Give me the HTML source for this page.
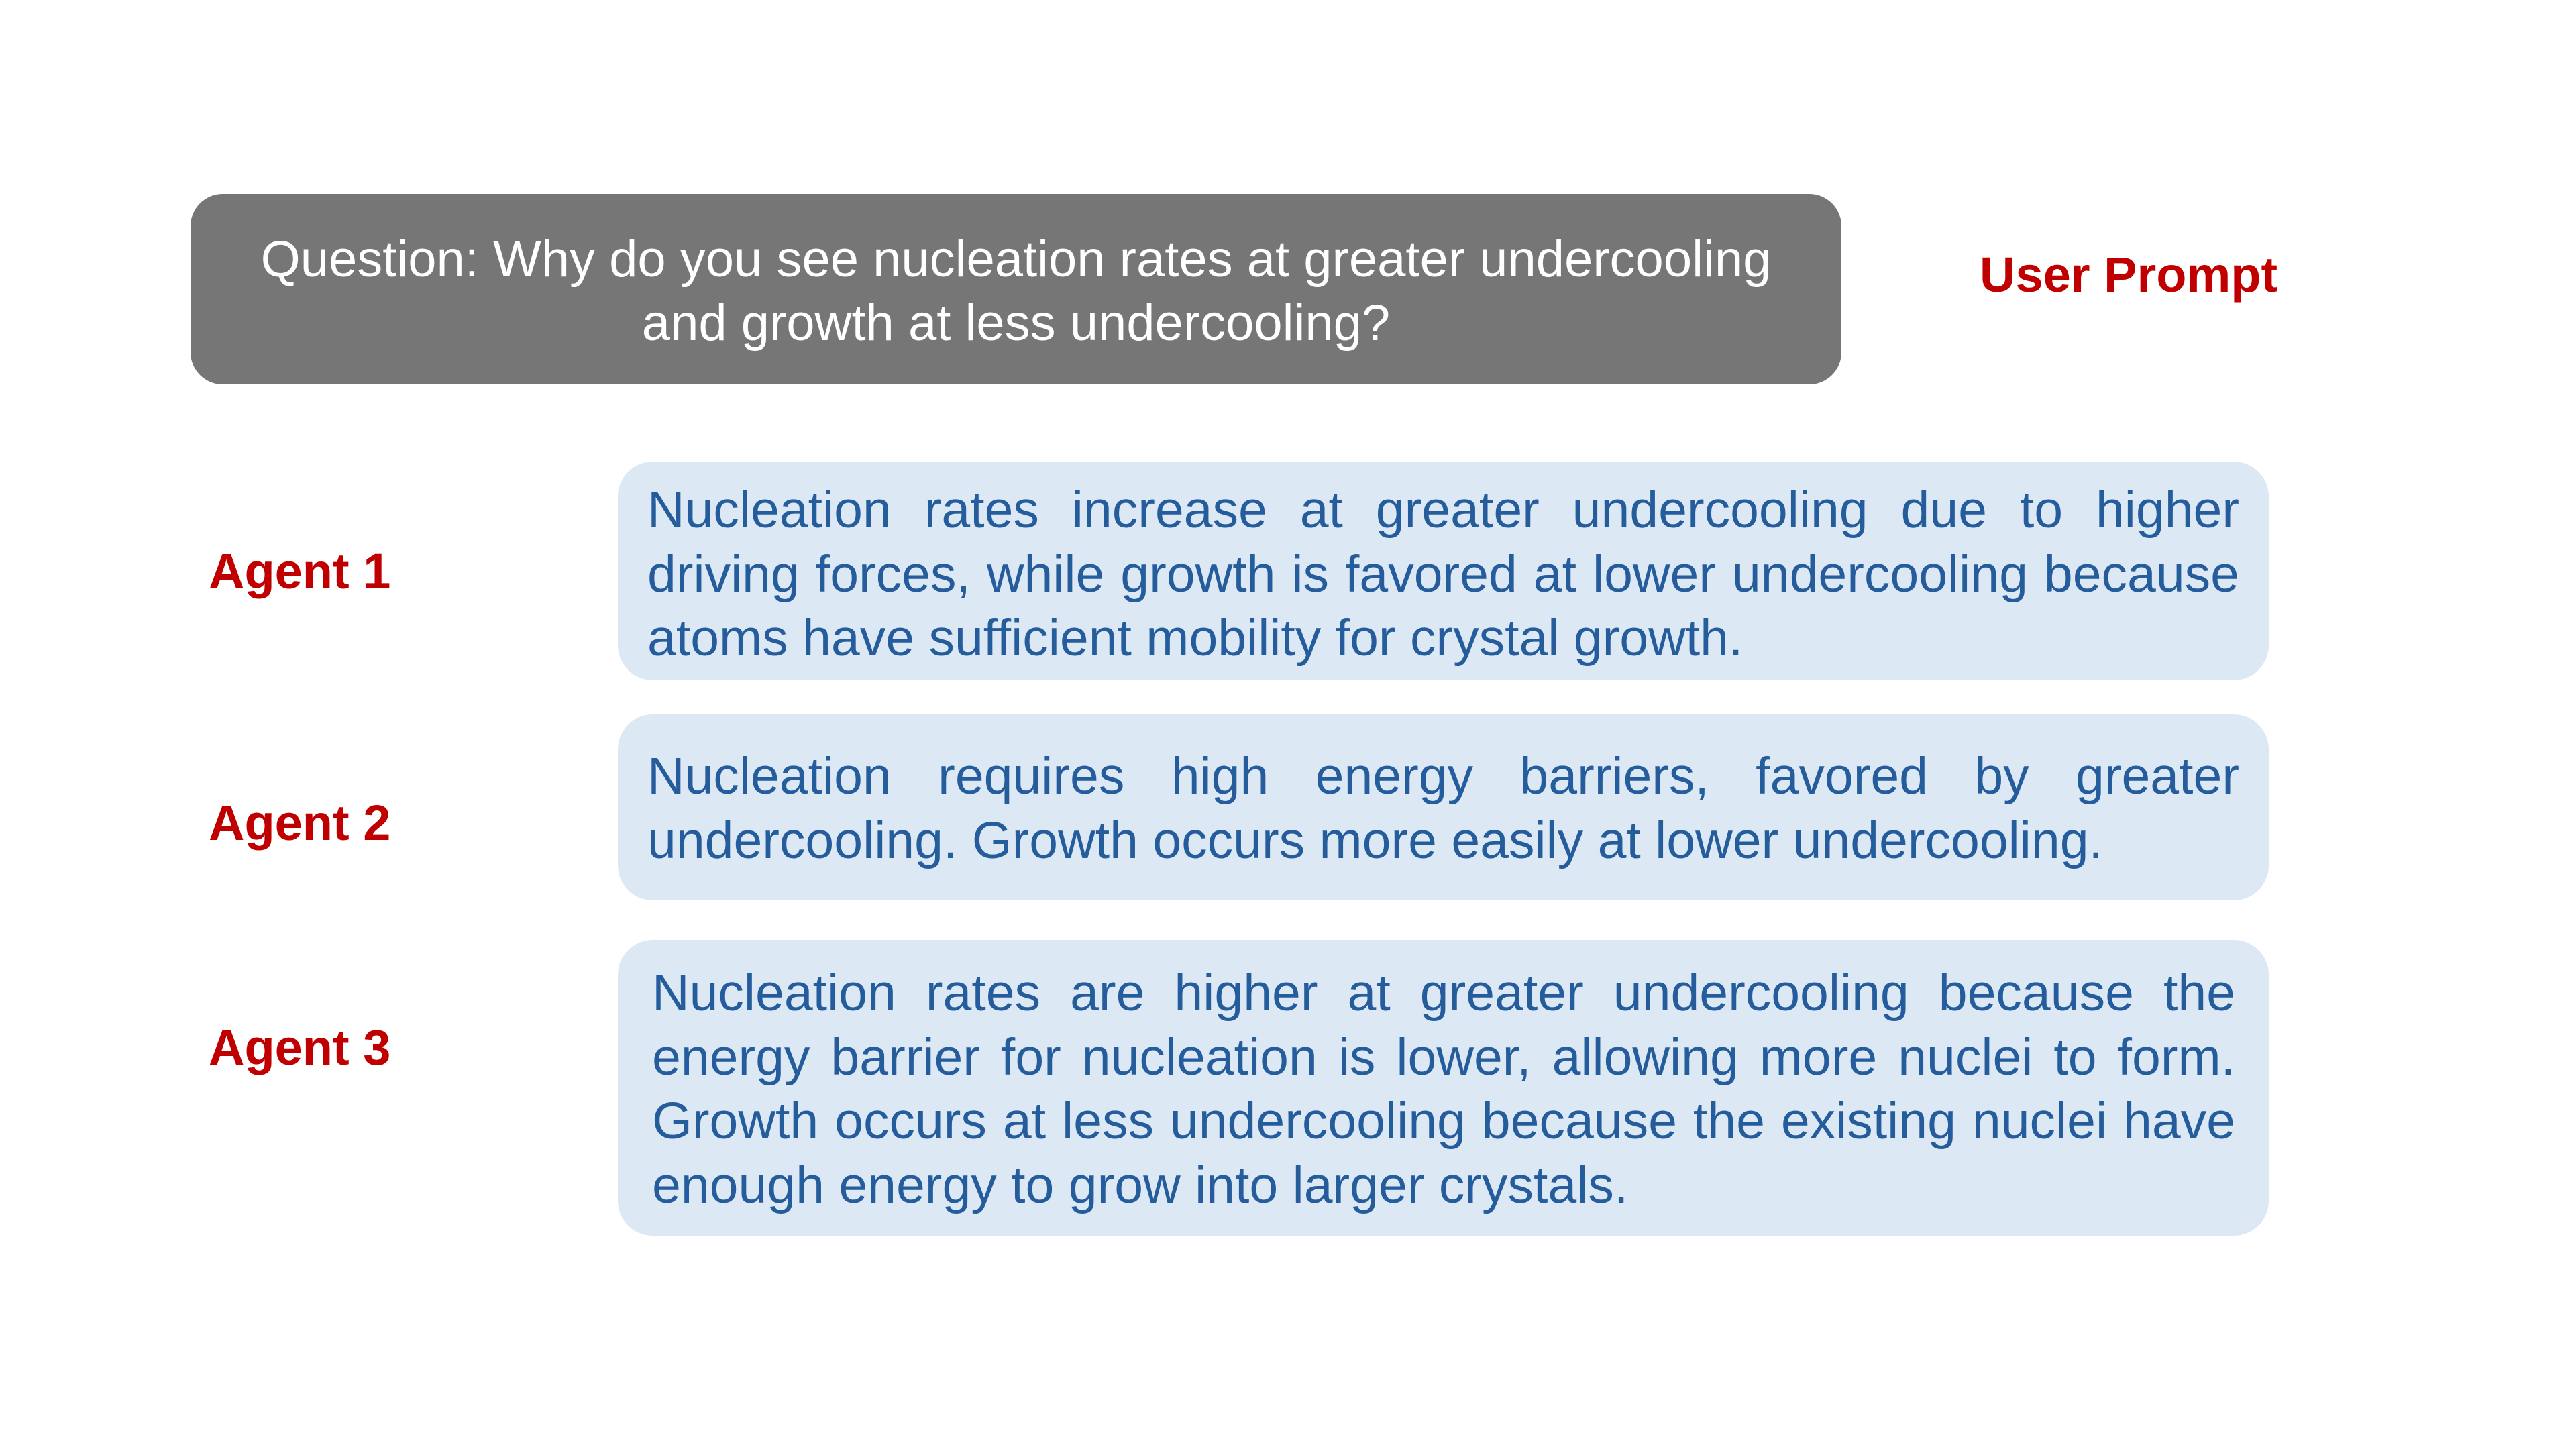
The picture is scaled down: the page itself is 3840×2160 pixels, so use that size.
<!DOCTYPE html>
<html><head><meta charset="utf-8"><style>
html,body{margin:0;padding:0;background:#fff;}
body{width:3840px;height:2160px;position:relative;overflow:hidden;font-family:"Liberation Sans",sans-serif;}
.q{position:absolute;left:284px;top:289px;width:2461px;height:284px;background:#767676;border-radius:48px;color:#fff;font-size:76px;text-align:center;box-sizing:border-box;padding-top:50px;line-height:95px;}
.lab{position:absolute;color:#C00000;font-weight:bold;font-size:74px;line-height:80px;}
.box{position:absolute;background:#DDE8F5;border-radius:52px;color:#245C9C;font-size:77px;line-height:95.5px;box-sizing:border-box;}
.ln{text-align:justify;text-align-last:justify;white-space:nowrap;}
.ln.last{text-align-last:left;}
</style></head><body>
<div class="q">Question: Why do you see nucleation rates at greater undercooling<br>and growth at less undercooling?</div>
<div class="lab" style="left:2951px;top:370px">User Prompt</div>

<div class="lab" style="left:311px;top:812px">Agent 1</div>
<div class="box" style="left:921px;top:688px;width:2461px;height:326px;padding:25px 44px 0 44px">
<div class="ln">Nucleation rates increase at greater undercooling due to higher</div>
<div class="ln">driving forces, while growth is favored at lower undercooling because</div>
<div class="ln last">atoms have sufficient mobility for crystal growth.</div>
</div>

<div class="lab" style="left:311px;top:1187px">Agent 2</div>
<div class="box" style="left:921px;top:1065px;width:2461px;height:277px;padding:45px 44px 0 44px">
<div class="ln">Nucleation requires high energy barriers, favored by greater</div>
<div class="ln last">undercooling. Growth occurs more easily at lower undercooling.</div>
</div>

<div class="lab" style="left:311px;top:1522px">Agent 3</div>
<div class="box" style="left:921px;top:1401px;width:2461px;height:441px;padding:32px 50px 0 51px">
<div class="ln">Nucleation rates are higher at greater undercooling because the</div>
<div class="ln">energy barrier for nucleation is lower, allowing more nuclei to form.</div>
<div class="ln">Growth occurs at less undercooling because the existing nuclei have</div>
<div class="ln last">enough energy to grow into larger crystals.</div>
</div>
</body></html>
